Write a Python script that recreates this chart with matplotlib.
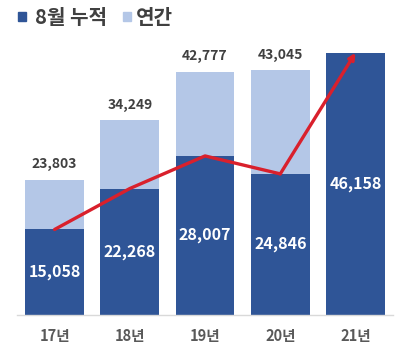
import matplotlib
matplotlib.use("Agg")
import matplotlib.pyplot as plt
from matplotlib.patches import Rectangle

plt.rcParams['font.family'] = ['Noto Sans CJK KR', 'DejaVu Sans']

categories = ['17년', '18년', '19년', '20년', '21년']
annual = [23803, 34249, 42777, 43045, None]
aug_cum = [15058, 22268, 28007, 24846, 46158]

dark = '#2f5597'
light = '#b4c7e7'
red = '#d9202c'
txt = '#404040'

fig = plt.figure(figsize=(4.04, 3.52), dpi=100)
ax = fig.add_axes([0.042, 0.105, 0.931, 0.807])
x = list(range(len(categories)))
w = 0.78

for i, v in enumerate(annual):
    if v is not None:
        ax.bar(i, v, width=w, color=light, zorder=1)
        ax.text(i, v + 1500, f'{v:,}', ha='center', va='bottom', fontsize=10,
                fontweight='bold', color=txt)
ax.bar(x, aug_cum, width=w, color=dark, zorder=2)
for i, v in enumerate(aug_cum):
    ax.text(i, v / 2, f'{v:,}', ha='center', va='center', fontsize=11.5,
            fontweight='bold', color='white', zorder=4)

ax.plot(x[:-1], aug_cum[:-1], color=red, lw=2.4, zorder=3, solid_capstyle='round')
ax.annotate('', xy=(x[-1], aug_cum[-1]), xytext=(x[-2], aug_cum[-2]),
            arrowprops=dict(arrowstyle='-|>', color=red, lw=2.4,
                            mutation_scale=9, shrinkA=0, shrinkB=0), zorder=3)

ax.set_xlim(-0.5, 4.5)
ax.set_ylim(0, 50000)
ax.set_xticks(x)
ax.set_xticklabels(categories, fontsize=10.5, fontweight='bold', color='#595959')
ax.tick_params(axis='x', length=0, pad=9)
ax.set_yticks([])
for s in ['top', 'right', 'left']:
    ax.spines[s].set_visible(False)
ax.spines['bottom'].set_color('#d9d9d9')
ax.spines['bottom'].set_linewidth(1)

# legend
fig.patches.append(Rectangle((18 / 404, 1 - 21 / 352), 8 / 404, 9 / 352,
                             transform=fig.transFigure, color=dark))
fig.text(35 / 404, 1 - 17 / 352, '8월 누적', fontsize=14.5, fontweight='bold',
         color=txt, va='center', ha='left')
fig.patches.append(Rectangle((123 / 404, 1 - 21 / 352), 8 / 404, 9 / 352,
                             transform=fig.transFigure, color=light))
fig.text(136 / 404, 1 - 17 / 352, '연간', fontsize=14.5, fontweight='bold',
         color=txt, va='center', ha='left')

fig.savefig('out.png', dpi=100)
